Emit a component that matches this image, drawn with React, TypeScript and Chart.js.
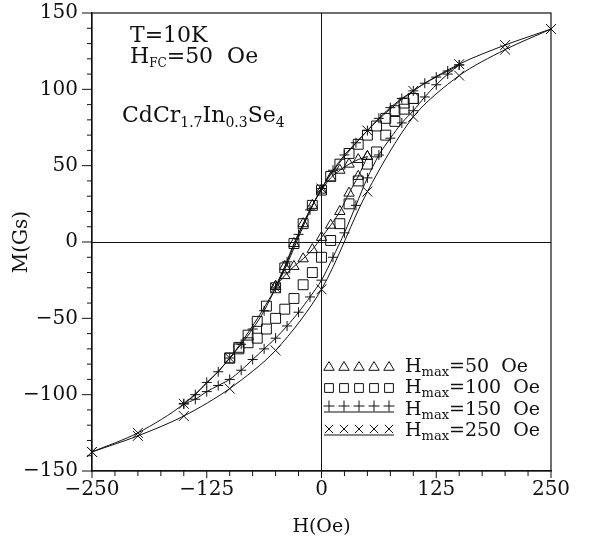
import React, { useEffect, useRef } from 'react';
import { Chart, registerables } from 'chart.js';

Chart.register(...registerables);

const FONT = "'DejaVu Serif', 'Liberation Serif', serif";
const INK = '#111';

// axes
const X_TICKS = [-250, -125, 0, 125, 250];
const Y_TICKS = [-150, -100, -50, 0, 50, 100, 150];
const X_MINOR_STEP = 25;
const Y_MINOR_STEP = 10;

// H_max = 250 Oe (x markers, solid line)
const H250_DOWN = [250, 200, 150, 100, 50, 0, -50, -100, -150, -200, -250];
const M250_DOWN = [139.5, 129, 116.5, 99, 73, 35, -30, -76, -106, -125, -137.5];
const H250_UP = [-250, -200, -150, -100, -50, 0, 50, 100, 150, 200, 250];
const M250_UP = [-137.5, -127, -114, -96, -71, -31, 33, 82, 109, 126, 139.5];

// H_max = 150 Oe (+ markers, line)
const H150_DOWN = [150, 137.5, 125, 112.5, 100, 87.5, 75, 62.5, 50, 37.5, 25, 12.5, 0, -12.5, -25, -37.5, -50, -62.5, -75, -87.5, -100, -112.5, -125, -137.5, -150];
const M150_DOWN = [116, 112, 108, 104, 99, 94, 88, 81, 73, 65, 57, 47, 35, 21, 5, -13, -30, -45, -57, -67, -76, -85, -92, -100, -106];
const H150_UP = [-150, -137.5, -125, -112.5, -100, -87.5, -75, -62.5, -50, -37.5, -25, -12.5, 0, 12.5, 25, 37.5, 50, 62.5, 75, 87.5, 100, 112.5, 125, 137.5, 150];
const M150_UP = [-106, -103, -98, -94, -90, -84, -77, -70, -63, -55, -46, -36, -25, -10, 6, 24, 42, 57, 68, 78, 86, 95, 103, 110, 116];

// H_max = 100 Oe (squares)
const H100_DOWN = [100, 90, 80, 70, 60, 50, 40, 30, 20, 10, 0, -10, -20, -30, -40, -50, -60, -70, -80, -90, -100];
const M100_DOWN = [94, 91, 86, 81, 76, 70, 64, 58, 51, 43, 34, 24, 12, -1, -17, -30, -42, -52, -61, -69, -76];
const H100_UP = [-100, -90, -80, -70, -60, -50, -40, -30, -20, -10, 0, 10, 20, 30, 40, 50, 60, 70, 80, 90, 100];
const M100_UP = [-76, -70, -66, -63, -57, -50, -44, -37, -28, -20, -10, 1, 12, 25, 40, 51, 59, 70, 79, 87, 94];

// H_max = 50 Oe (triangles)
const H50_DOWN = [50, 40, 30, 20, 10, 0, -10, -20, -30, -40, -50];
const M50_DOWN = [56, 54, 51, 47, 42, 34, 24, 12, -1, -16, -29];
const H50_UP = [-50, -40, -30, -20, -10, 0, 10, 20, 30, 40, 50];
const M50_UP = [-29, -22, -16, -11, -5, 3, 11, 20, 32, 43, 56];

const LEGEND_VALUES = ['50', '100', '150', '250'];
const LEGEND_STYLES = ['triangle', 'rect', 'cross', 'crossRot'];

const fmt = (v: number) => (v < 0 ? '\u2212' + Math.abs(v) : String(v));
const pts = (h: number[], m: number[]) => h.map((x, i) => ({ x, y: m[i] }));

type Part = { t: string; sub?: boolean };
function drawRich(ctx: CanvasRenderingContext2D, parts: Part[], x: number, y: number, size: number, subSize: number, drop: number) {
  let cx = x;
  for (const p of parts) {
    ctx.font = `${p.sub ? subSize : size}px ${FONT}`;
    ctx.fillText(p.t, cx, p.sub ? y + drop : y);
    cx += ctx.measureText(p.t).width;
  }
}

function drawMarker(ctx: CanvasRenderingContext2D, style: string, x: number, y: number, r: number) {
  ctx.beginPath();
  if (style === 'triangle') {
    ctx.moveTo(x, y - r);
    ctx.lineTo(x + r * 0.95, y + r * 0.6);
    ctx.lineTo(x - r * 0.95, y + r * 0.6);
    ctx.closePath();
  } else if (style === 'rect') {
    ctx.rect(x - r * 0.8, y - r * 0.8, r * 1.6, r * 1.6);
  } else if (style === 'cross') {
    ctx.moveTo(x - r, y); ctx.lineTo(x + r, y);
    ctx.moveTo(x, y - r); ctx.lineTo(x, y + r);
  } else {
    const d = r * 0.75;
    ctx.moveTo(x - d, y - d); ctx.lineTo(x + d, y + d);
    ctx.moveTo(x + d, y - d); ctx.lineTo(x - d, y + d);
  }
  ctx.stroke();
}

const framePlugin = {
  id: 'frameAndText',
  afterDraw(chart: any) {
    const { ctx, chartArea: a, scales } = chart;
    const xs = scales.x;
    const ys = scales.y;
    ctx.save();
    ctx.strokeStyle = INK;
    ctx.fillStyle = INK;
    ctx.lineWidth = 1.2;
    ctx.strokeRect(a.left, a.top, a.right - a.left, a.bottom - a.top);

    ctx.lineWidth = 1;
    ctx.beginPath();
    for (let v = X_TICKS[0]; v <= X_TICKS[X_TICKS.length - 1]; v += X_MINOR_STEP) {
      const px = xs.getPixelForValue(v);
      const major = X_TICKS.includes(v);
      ctx.moveTo(px, a.bottom);
      ctx.lineTo(px, a.bottom + (major ? 7 : 5));
    }
    for (let v = Y_TICKS[0]; v <= Y_TICKS[Y_TICKS.length - 1]; v += Y_MINOR_STEP) {
      const py = ys.getPixelForValue(v);
      const major = Y_TICKS.includes(v);
      ctx.moveTo(a.left, py);
      ctx.lineTo(a.left - (major ? 10 : 5), py);
    }
    ctx.stroke();

    // annotations
    ctx.textAlign = 'left';
    ctx.textBaseline = 'alphabetic';
    drawRich(ctx, [{ t: 'T=10K' }], 130, 42, 22, 12, 4);
    drawRich(ctx, [{ t: 'H' }, { t: 'FC', sub: true }, { t: '=50  Oe' }], 130, 63, 22, 12, 4);
    drawRich(ctx, [{ t: 'CdCr' }, { t: '1.7', sub: true }, { t: 'In' }, { t: '0.3', sub: true }, { t: 'Se' }, { t: '4', sub: true }], 122, 122, 22, 14, 5);

    // legend
    const rowsY = [372, 393, 415, 436];
    const markerY = [367, 388, 406, 429];
    const markerX = [329, 344, 359, 374, 389];
    LEGEND_VALUES.forEach((val, i) => {
      const style = LEGEND_STYLES[i];
      ctx.lineWidth = 1;
      markerX.forEach((mx) => drawMarker(ctx, style, mx, markerY[i], 5.5));
      if (style === 'cross' || style === 'crossRot') {
        ctx.beginPath();
        ctx.moveTo(markerX[0] - 5, markerY[i] + 6);
        ctx.lineTo(markerX[4] + 5, markerY[i] + 6);
        ctx.stroke();
      }
      drawRich(ctx, [{ t: 'H' }, { t: 'max', sub: true }, { t: '=' + val + '  Oe' }], 405, rowsY[i], 19, 13, 4);
    });
    ctx.restore();
  },
};

export default function App() {
  const ref = useRef<HTMLCanvasElement | null>(null);
  useEffect(() => {
    if (!ref.current) return;
    const base = {
      borderColor: INK,
      backgroundColor: 'rgba(0,0,0,0)',
      pointBorderColor: INK,
      pointBackgroundColor: 'rgba(0,0,0,0)',
      borderWidth: 1,
      pointBorderWidth: 1,
      clip: false as any,
      tension: 0.3,
    };
    const chart = new Chart(ref.current, {
      type: 'scatter',
      data: {
        datasets: [
          { ...base, data: pts(H250_DOWN, M250_DOWN), showLine: true, pointStyle: 'crossRot', pointRadius: 7 },
          { ...base, data: pts(H250_UP, M250_UP), showLine: true, pointStyle: 'crossRot', pointRadius: 7 },
          { ...base, data: pts(H150_DOWN, M150_DOWN), showLine: true, pointStyle: 'cross', pointRadius: 5 },
          { ...base, data: pts(H150_UP, M150_UP), showLine: true, pointStyle: 'cross', pointRadius: 5 },
          { ...base, data: pts(H100_DOWN, M100_DOWN), showLine: false, pointStyle: 'rect', pointRadius: 7 },
          { ...base, data: pts(H100_UP, M100_UP), showLine: false, pointStyle: 'rect', pointRadius: 7 },
          { ...base, data: pts(H50_DOWN, M50_DOWN), showLine: true, pointStyle: 'triangle', pointRadius: 6 },
          { ...base, data: pts(H50_UP, M50_UP), showLine: true, pointStyle: 'triangle', pointRadius: 6 },
        ] as any,
      },
      options: {
        animation: false,
        responsive: false,
        events: [],
        layout: { padding: { top: 13, right: 44, left: 0, bottom: 0 } },
        plugins: { legend: { display: false }, tooltip: { enabled: false } },
        scales: {
          x: {
            type: 'linear',
            min: X_TICKS[0],
            max: X_TICKS[X_TICKS.length - 1],
            afterBuildTicks: (s: any) => { s.ticks = X_TICKS.map((v) => ({ value: v })); },
            afterFit: (s: any) => { s.height = 71; s.paddingLeft = 0; s.paddingRight = 0; },
            grid: {
              display: true,
              drawTicks: false,
              color: (c: any) => (c.tick && c.tick.value === 0 ? INK : 'rgba(0,0,0,0)'),
              lineWidth: 1,
            },
            border: { display: true, color: INK, width: 1.2 },
            ticks: {
              color: INK,
              font: { family: FONT, size: 20 },
              padding: 7,
              maxRotation: 0,
              autoSkip: false,
              callback: (v: any) => fmt(Number(v)),
            },
            title: { display: true, text: 'H(Oe)', color: INK, font: { family: FONT, size: 19 }, padding: { top: 0, bottom: 4 } },
          },
          y: {
            type: 'linear',
            min: Y_TICKS[0],
            max: Y_TICKS[Y_TICKS.length - 1],
            afterBuildTicks: (s: any) => { s.ticks = Y_TICKS.map((v) => ({ value: v })); },
            afterFit: (s: any) => { s.width = 92; s.paddingTop = 0; s.paddingBottom = 0; },
            grid: {
              display: true,
              drawTicks: false,
              color: (c: any) => (c.tick && c.tick.value === 0 ? INK : 'rgba(0,0,0,0)'),
              lineWidth: 1,
            },
            border: { display: true, color: INK, width: 1.2 },
            ticks: {
              color: INK,
              font: { family: FONT, size: 20 },
              padding: 14,
              autoSkip: false,
              callback: (v: any) => fmt(Number(v)),
            },
            title: { display: true, text: 'M(Gs)', color: INK, font: { family: FONT, size: 20 }, padding: { top: 10, bottom: 0 } },
          },
        },
      } as any,
      plugins: [framePlugin],
    });
    return () => chart.destroy();
  }, []);
  return (
    <div style={{ position: 'fixed', left: 0, top: 0, width: 595, height: 542, background: '#fff' }}>
      <canvas ref={ref} width={595} height={542} style={{ display: 'block' }} />
    </div>
  );
}
